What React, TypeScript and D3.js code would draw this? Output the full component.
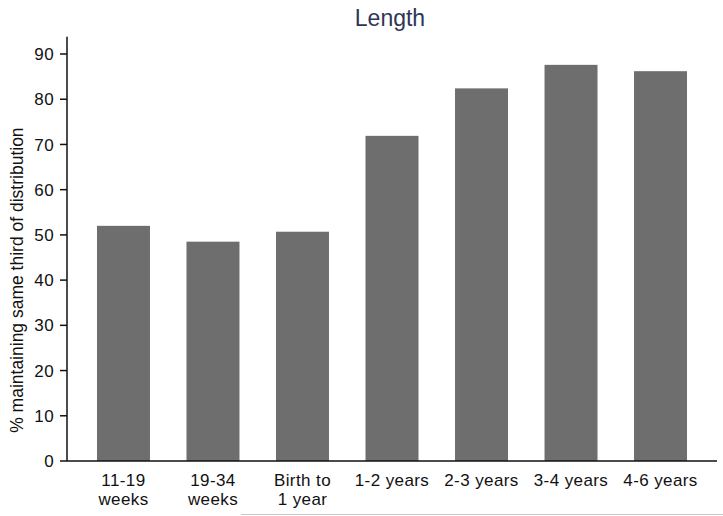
import * as d3 from "d3";

const categories = [
  ["11-19", "weeks"],
  ["19-34", "weeks"],
  ["Birth to", "1 year"],
  ["1-2 years"],
  ["2-3 years"],
  ["3-4 years"],
  ["4-6 years"],
];
const values = [52.0, 48.5, 50.7, 71.9, 82.4, 87.6, 86.2];
const yTicks = [0, 10, 20, 30, 40, 50, 60, 70, 80, 90];

const WIDTH = 723;
const HEIGHT = 516;
const MARGIN = { top: 54, right: 6, bottom: 55, left: 67 };
const FONT = "'Liberation Sans', Arial, sans-serif";

export default function App() {
  const boundsHeight = HEIGHT - MARGIN.top - MARGIN.bottom;
  const boundsWidth = WIDTH - MARGIN.left - MARGIN.right;

  const xScale = d3
    .scaleBand()
    .domain(categories.map((_, i) => String(i)))
    .range([0, boundsWidth])
    .paddingInner(0.408)
    .paddingOuter(0.335);

  const yScale = d3.scaleLinear().domain([0, 90]).range([boundsHeight, 0]);

  const bars = values.map((v, i) => (
    <rect
      key={i}
      x={xScale(String(i))}
      y={yScale(v)}
      width={xScale.bandwidth()}
      height={yScale(0) - yScale(v)}
      fill="#6e6e6e"
    />
  ));

  const xLabels = categories.map((lines, i) => {
    const cx = (xScale(String(i)) ?? 0) + xScale.bandwidth() / 2;
    return (
      <text
        key={i}
        x={cx}
        y={boundsHeight + 25}
        textAnchor="middle"
        fontSize={17}
        letterSpacing={0.4}
        fill="#111"
      >
        {lines.map((l, j) => (
          <tspan key={j} x={cx} dy={j === 0 ? 0 : 19}>
            {l}
          </tspan>
        ))}
      </text>
    );
  });

  const yAxis = yTicks.map((t) => (
    <g key={t} transform={`translate(0,${yScale(t)})`}>
      <line x1={-7} x2={0} stroke="#111" strokeWidth={1.5} />
      <text
        x={-13}
        dy="0.36em"
        textAnchor="end"
        fontSize={17}
        letterSpacing={0.4}
        fill="#111"
      >
        {t}
      </text>
    </g>
  ));

  return (
    <div style={{ position: "absolute", left: 0, top: 0 }}>
      <svg width={WIDTH} height={HEIGHT} style={{ display: "block", fontFamily: FONT }}>
        <rect width={WIDTH} height={HEIGHT} fill="#fff" />
        <text
          x={390}
          y={26}
          textAnchor="middle"
          fontSize={23}
          fill="#2e3657"
        >
          Length
        </text>
        <text
          transform={`translate(23,${MARGIN.top + yScale(40)}) rotate(-90)`}
          textAnchor="middle"
          fontSize={17.5}
          fill="#111"
        >
          % maintaining same third of distribution
        </text>
        <g transform={`translate(${MARGIN.left},${MARGIN.top})`}>
          {bars}
          <line
            x1={0}
            x2={0}
            y1={yScale(0)}
            y2={yScale(93.8)}
            stroke="#111"
            strokeWidth={1.5}
          />
          <line
            x1={0}
            x2={boundsWidth}
            y1={yScale(0)}
            y2={yScale(0)}
            stroke="#111"
            strokeWidth={1.5}
          />
          {yAxis}
          {xLabels}
        </g>
        <line x1={241} x2={WIDTH} y1={514.5} y2={514.5} stroke="#c8c8c8" strokeWidth={1} />
      </svg>
    </div>
  );
}
